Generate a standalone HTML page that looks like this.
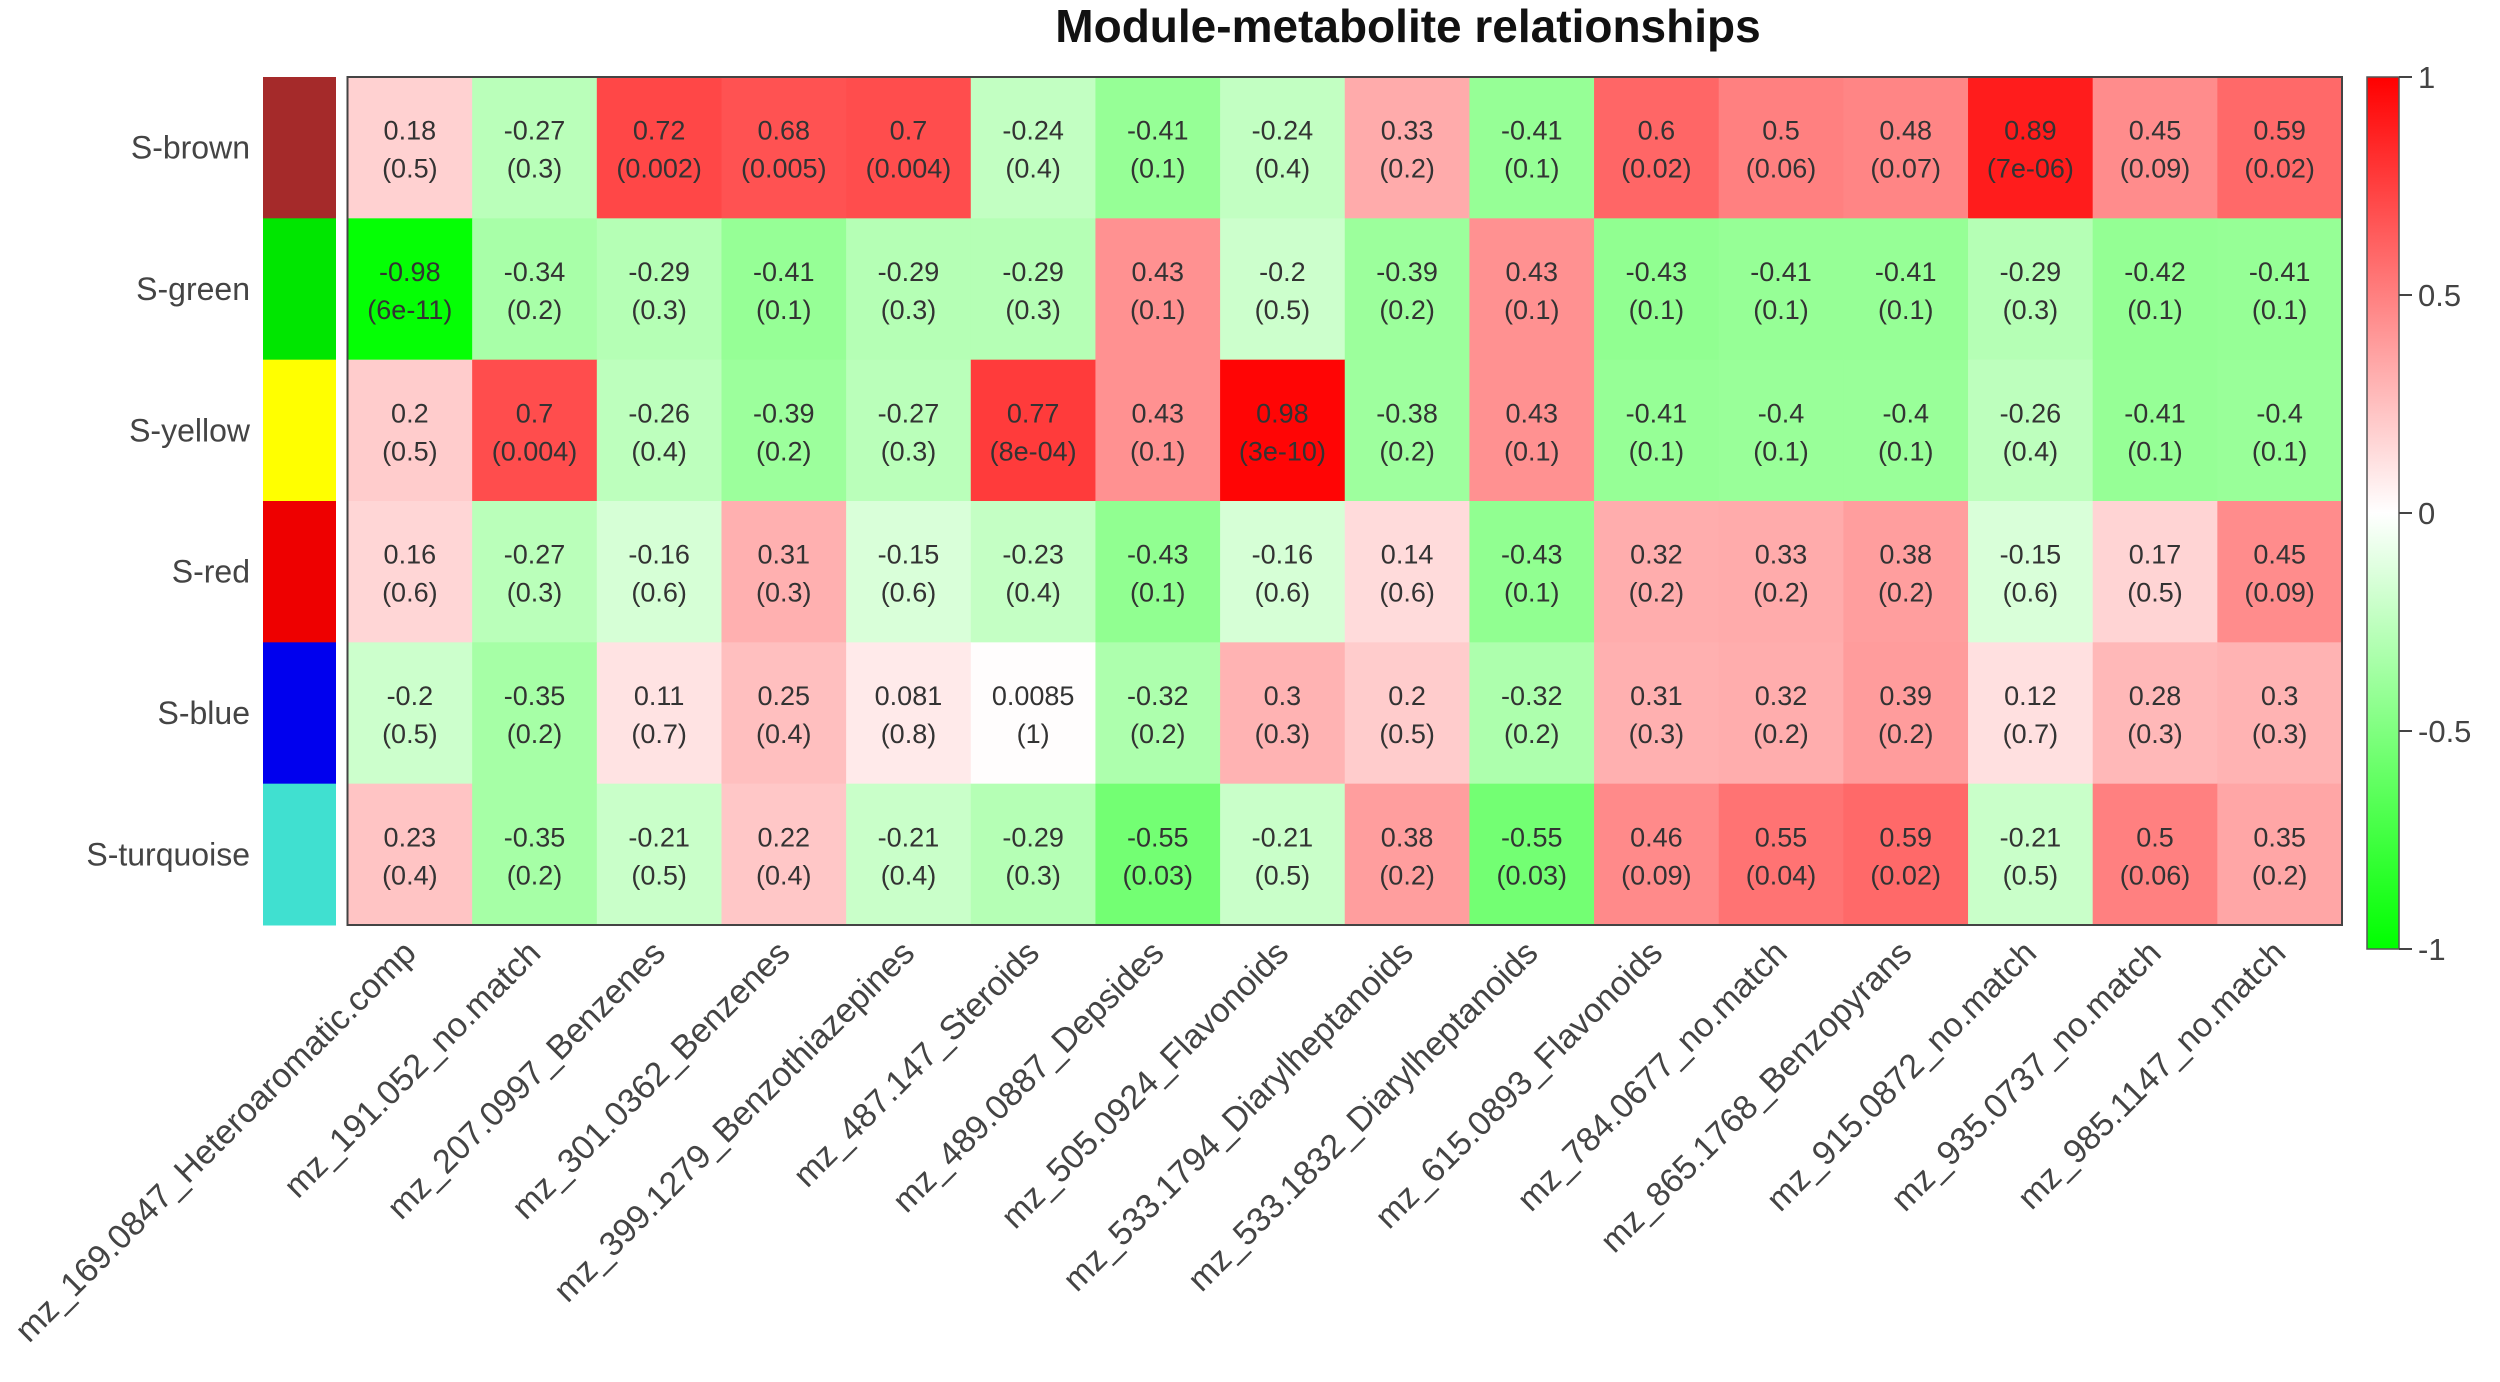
<!DOCTYPE html>
<html><head><meta charset="utf-8"><style>
html,body{margin:0;padding:0;background:#fff;}
svg{display:block;font-family:"Liberation Sans",Arial,sans-serif;}
</style></head><body>
<svg id="chart" width="2500" height="1382" viewBox="0 0 2500 1382" xmlns="http://www.w3.org/2000/svg">
<defs><linearGradient id="lg" x1="0" y1="1" x2="0" y2="0">
<stop offset="0" stop-color="#00ff00"/><stop offset="0.5" stop-color="#ffffff"/><stop offset="1" stop-color="#ff0000"/></linearGradient></defs>
<text x="1408" y="42" text-anchor="middle" font-size="46" font-weight="bold" fill="#111">Module-metabolite relationships</text>
<g id="cells"></g>
<g id="rowlabels"></g>
<g id="collabels"></g>
<rect x="347.5" y="77" width="1994.5" height="848" fill="none" stroke="#444" stroke-width="2"/>
<g>
<rect x="2367" y="77" width="32" height="872" fill="url(#lg)" stroke="#555" stroke-width="1.5"/>
<g id="legendticks"></g>
</g>
</svg>
<script>
const rows = ["S-brown","S-green","S-yellow","S-red","S-blue","S-turquoise"];
const rowColors = ["#a52a2a","#00e600","#ffff00","#ee0000","#0000ee","#40e0d0"];
const cols = ["mz_169.0847_Heteroaromatic.comp","mz_191.052_no.match","mz_207.0997_Benzenes","mz_301.0362_Benzenes","mz_399.1279_Benzothiazepines","mz_487.147_Steroids","mz_489.0887_Depsides","mz_505.0924_Flavonoids","mz_533.1794_Diarylheptanoids","mz_533.1832_Diarylheptanoids","mz_615.0893_Flavonoids","mz_784.0677_no.match","mz_865.1768_Benzopyrans","mz_915.0872_no.match","mz_935.0737_no.match","mz_985.1147_no.match"];
const corBrown = [0.18,-0.27,0.72,0.68,0.7,-0.24,-0.41,-0.24,0.33,-0.41,0.6,0.5,0.48,0.89,0.45,0.59];
const corGreen = [-0.98,-0.34,-0.29,-0.41,-0.29,-0.29,0.43,-0.2,-0.39,0.43,-0.43,-0.41,-0.41,-0.29,-0.42,-0.41];
const corYellow = [0.2,0.7,-0.26,-0.39,-0.27,0.77,0.43,0.98,-0.38,0.43,-0.41,-0.4,-0.4,-0.26,-0.41,-0.4];
const corRed = [0.16,-0.27,-0.16,0.31,-0.15,-0.23,-0.43,-0.16,0.14,-0.43,0.32,0.33,0.38,-0.15,0.17,0.45];
const corBlue = [-0.2,-0.35,0.11,0.25,0.081,0.0085,-0.32,0.3,0.2,-0.32,0.31,0.32,0.39,0.12,0.28,0.3];
const corTurq = [0.23,-0.35,-0.21,0.22,-0.21,-0.29,-0.55,-0.21,0.38,-0.55,0.46,0.55,0.59,-0.21,0.5,0.35];
const pBrown = ["0.5","0.3","0.002","0.005","0.004","0.4","0.1","0.4","0.2","0.1","0.02","0.06","0.07","7e-06","0.09","0.02"];
const pGreen = ["6e-11","0.2","0.3","0.1","0.3","0.3","0.1","0.5","0.2","0.1","0.1","0.1","0.1","0.3","0.1","0.1"];
const pYellow = ["0.5","0.004","0.4","0.2","0.3","8e-04","0.1","3e-10","0.2","0.1","0.1","0.1","0.1","0.4","0.1","0.1"];
const pRed = ["0.6","0.3","0.6","0.3","0.6","0.4","0.1","0.6","0.6","0.1","0.2","0.2","0.2","0.6","0.5","0.09"];
const pBlue = ["0.5","0.2","0.7","0.4","0.8","1","0.2","0.3","0.5","0.2","0.3","0.2","0.2","0.7","0.3","0.3"];
const pTurq = ["0.4","0.2","0.5","0.4","0.4","0.3","0.03","0.5","0.2","0.03","0.09","0.04","0.02","0.5","0.06","0.2"];
const legendTicks = [1,0.5,0,-0.5,-1];

const cor = [corBrown,corGreen,corYellow,corRed,corBlue,corTurq];
const pv = [pBrown,pGreen,pYellow,pRed,pBlue,pTurq];
const NS="http://www.w3.org/2000/svg";
const X0=347.5,X1=2342,Y0=77,Y1=925;
const cw=(X1-X0)/cols.length, rh=(Y1-Y0)/rows.length;
const xPos=i=>X0+i*cw, yPos=j=>Y0+j*rh;
const legY=v=>77+(1-v)/2*872;
function color(v){
  if(v>=0){const c=Math.round(255*(1-v));return `rgb(255,${c},${c})`;}
  const c=Math.round(255*(1+v));return `rgb(${c},255,${c})`;
}
function mk(tag,attrs,parent){const e=document.createElementNS(NS,tag);for(const k in attrs)e.setAttribute(k,attrs[k]);parent.appendChild(e);return e;}
const gC=document.getElementById('cells'),gR=document.getElementById('rowlabels'),gL=document.getElementById('collabels'),gT=document.getElementById('legendticks');
rows.forEach((r,j)=>{
  const sw=mk('rect',{x:263,y:yPos(j),width:73,height:rh+0.5,fill:rowColors[j]},gR);
  
  
  const t=mk('text',{x:250,y:yPos(j)+rh/2+11,'text-anchor':'end','font-size':32,fill:'#444'},gR);
  t.textContent=r;
  
  
  cols.forEach((c,i)=>{
    const v=cor[j][i];
    const rc=mk('rect',{x:xPos(i),y:yPos(j),width:cw+0.5,height:rh+0.5,fill:color(v)},gC);
    
    
    const cx=xPos(i)+cw/2, cy=yPos(j)+rh/2;
    const t1=mk('text',{x:cx,y:cy-8,'text-anchor':'middle','font-size':27,fill:'#333'},gC);
    t1.textContent=String(v);
    
    
    const t2=mk('text',{x:cx,y:cy+30,'text-anchor':'middle','font-size':27,fill:'#333'},gC);
    t2.textContent='('+pv[j][i]+')';
    
    
  });
});
cols.forEach((c,i)=>{
  const x=xPos(i)+cw/2+8, y=955;
  const t=mk('text',{x:x,y:y,'text-anchor':'end','font-size':34,fill:'#444',transform:`rotate(-45 ${x} ${y})`},gL);
  t.textContent=c;
  
  
});
legendTicks.forEach(v=>{
  const y=legY(v);
  const l=mk('line',{x1:2399,x2:2412,y1:y,y2:y,stroke:'#444','stroke-width':2},gT);
  
  
  const t=mk('text',{x:2418,y:y+11,'font-size':31,fill:'#444'},gT);
  t.textContent=String(v);
  
  
});
</script>
</body></html>
